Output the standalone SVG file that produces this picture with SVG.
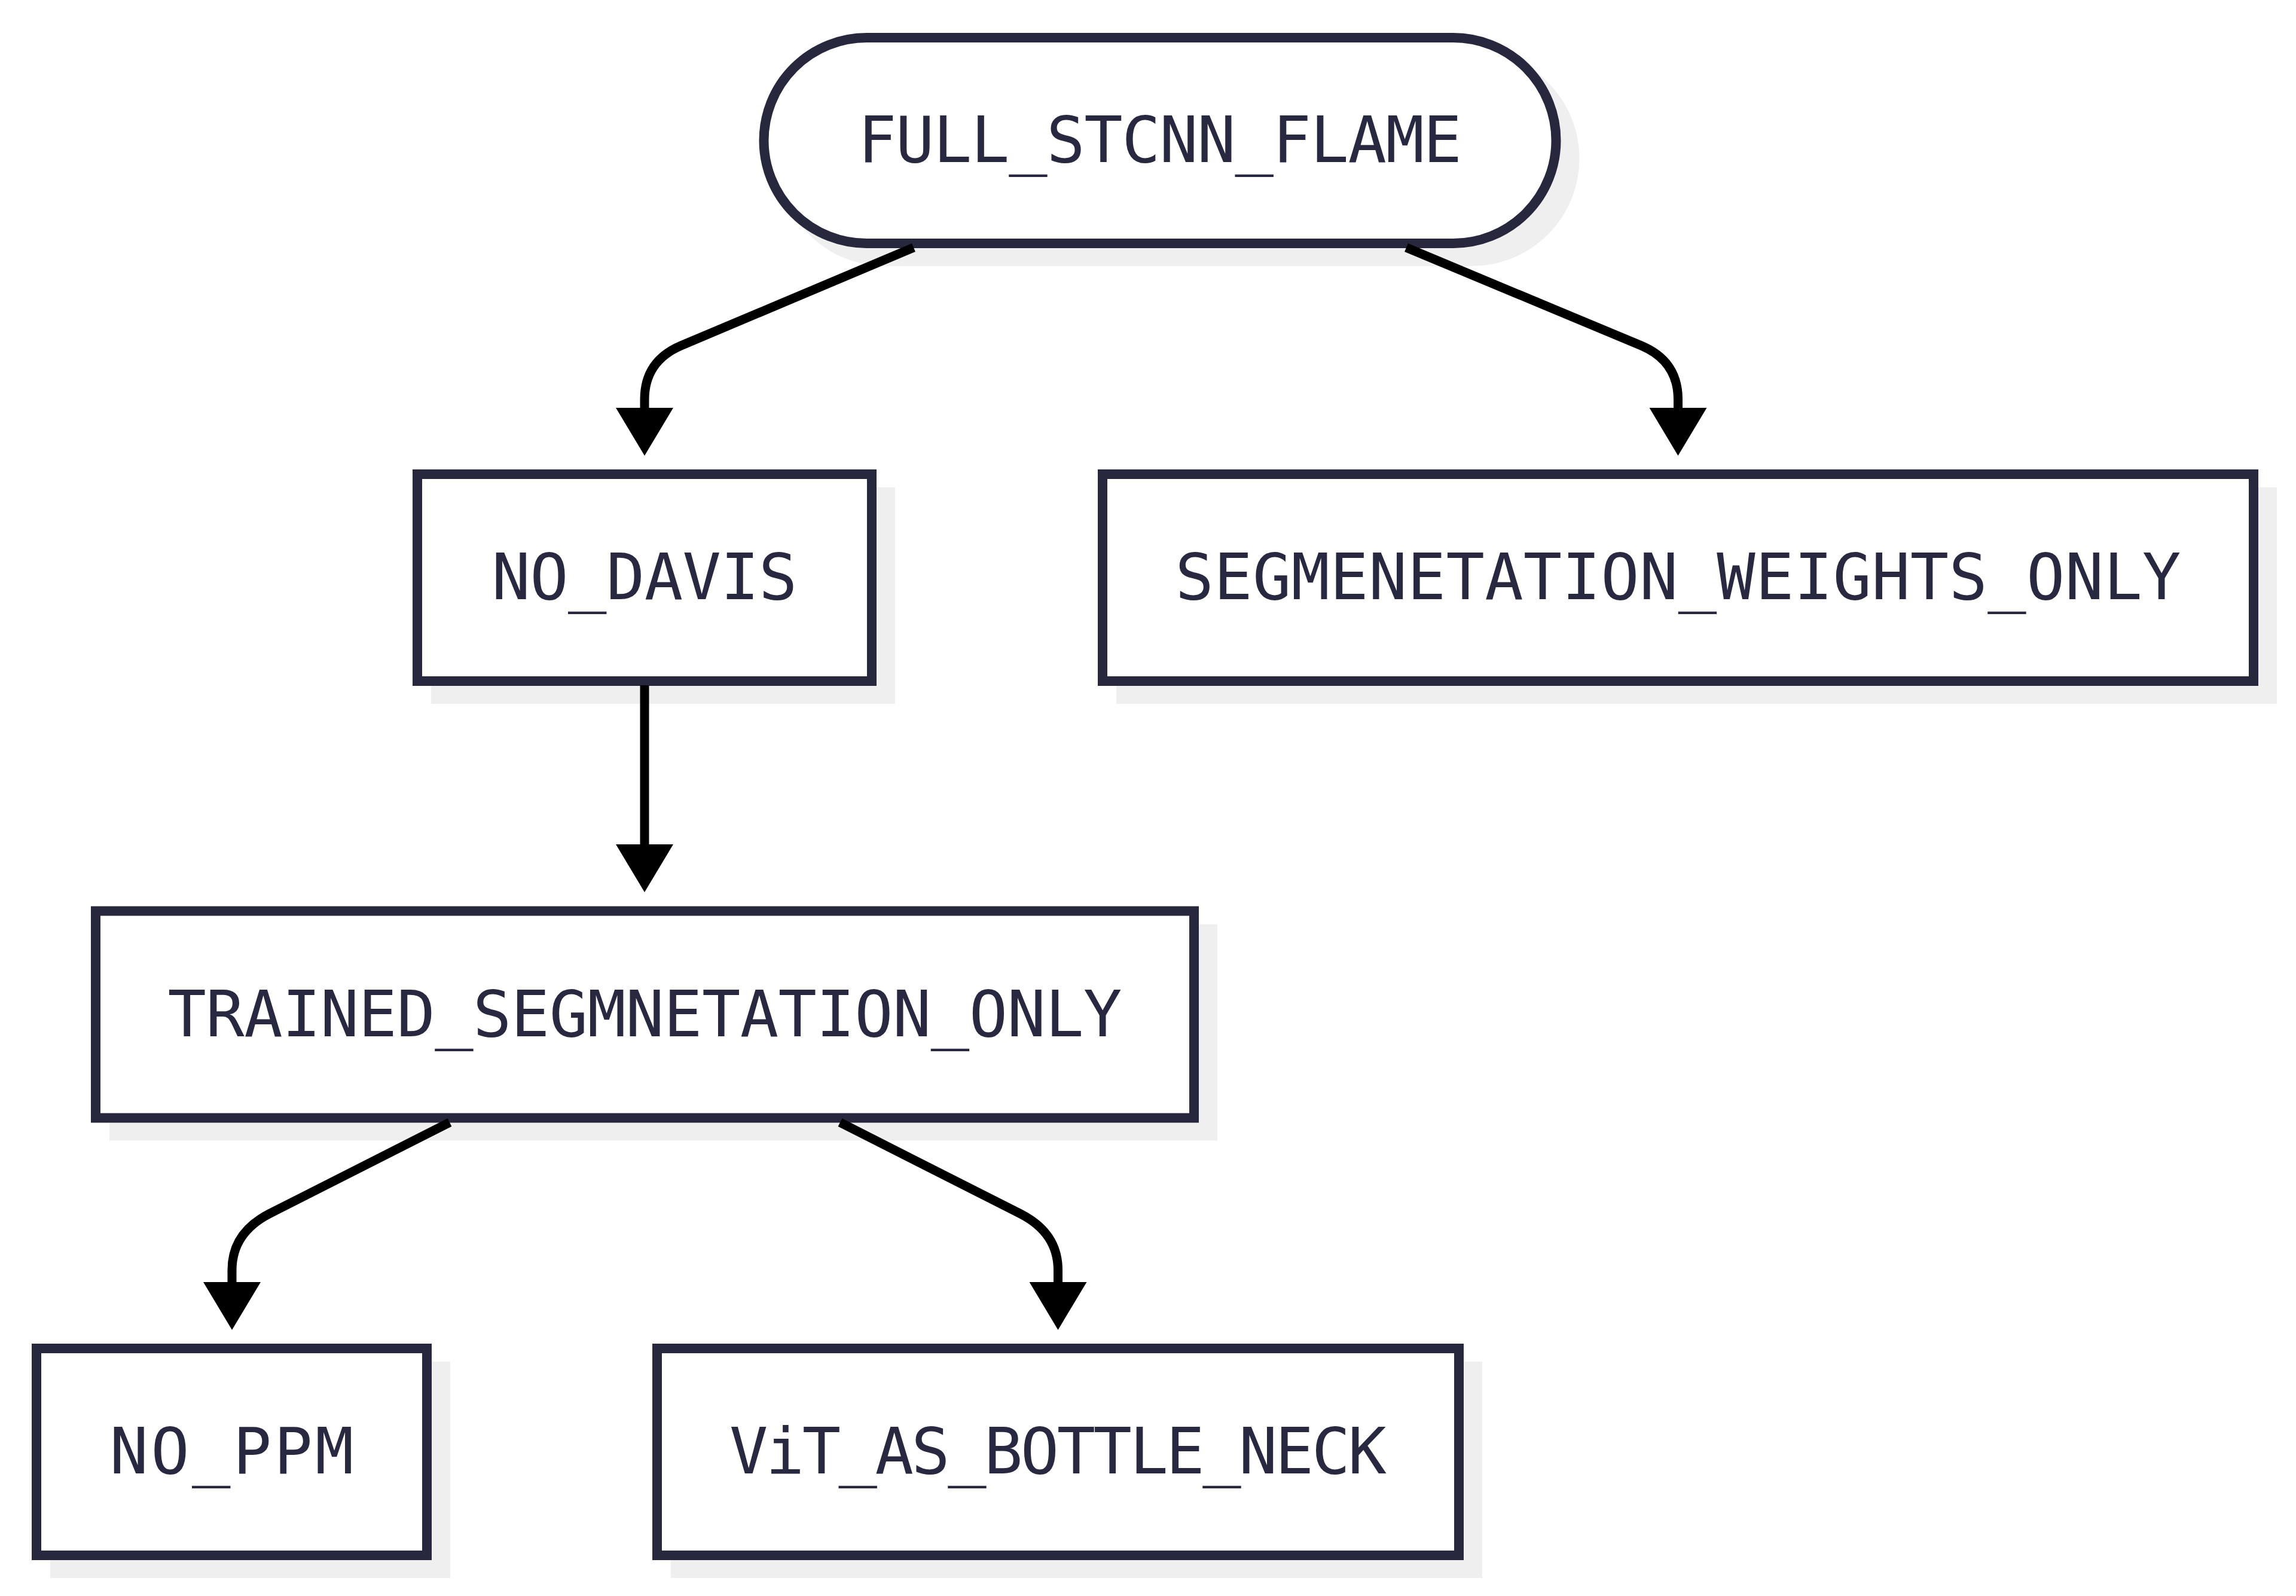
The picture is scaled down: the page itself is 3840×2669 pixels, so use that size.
<svg xmlns="http://www.w3.org/2000/svg" width="3840" height="2669" viewBox="0 0 3840 2669">
<defs>
<style>
.shadow{fill:#efefef;stroke:none}
.box{fill:#ffffff;stroke:#27273d;stroke-width:16}
.label{font-family:"DejaVu Sans Mono","Liberation Mono",monospace;font-size:107px;fill:#282840;text-anchor:middle}
.edge{fill:none;stroke:#000000;stroke-width:15}
</style>
<marker id="arrow" markerUnits="userSpaceOnUse" viewBox="0 0 80 96" refX="0" refY="48" markerWidth="80" markerHeight="96" orient="auto">
<path d="M0 0 L80 48 L0 96 Z" fill="#000000"/>
</marker>
</defs>
<rect width="3840" height="2669" fill="#ffffff"/>

<g id="FULL_STCNN_FLAME">
<rect class="shadow" x="1300.5" y="85" width="1341" height="360" rx="180" ry="180"/>
<rect class="box" x="1277.5" y="63" width="1325" height="344" rx="172" ry="172"/>
<text class="label" x="1940" y="271" textLength="1010" lengthAdjust="spacing">FULL_STCNN_FLAME</text>
</g>

<g id="NO_DAVIS">
<rect class="shadow" x="721" y="815" width="776" height="362"/>
<rect class="box" x="698" y="793" width="760" height="346"/>
<text class="label" x="1078" y="1002" textLength="511" lengthAdjust="spacing">NO_DAVIS</text>
</g>

<g id="SEGMENETATION_WEIGHTS_ONLY">
<rect class="shadow" x="1867" y="815" width="1941" height="362"/>
<rect class="box" x="1844" y="793" width="1925" height="346"/>
<text class="label" x="2806.5" y="1002" textLength="1682" lengthAdjust="spacing">SEGMENETATION_WEIGHTS_ONLY</text>
</g>

<g id="TRAINED_SEGMNETATION_ONLY">
<rect class="shadow" x="183" y="1545.5" width="1853" height="362"/>
<rect class="box" x="160" y="1523.5" width="1837" height="346"/>
<text class="label" x="1078.5" y="1733" textLength="1596" lengthAdjust="spacing">TRAINED_SEGMNETATION_ONLY</text>
</g>

<g id="NO_PPM">
<rect class="shadow" x="84" y="2277" width="669" height="362"/>
<rect class="box" x="61" y="2255" width="653" height="346"/>
<text class="label" x="387.5" y="2464" textLength="408" lengthAdjust="spacing">NO_PPM</text>
</g>

<g id="ViT_AS_BOTTLE_NECK">
<rect class="shadow" x="1122" y="2277" width="1357" height="362"/>
<rect class="box" x="1099" y="2255" width="1341" height="346"/>
<text class="label" x="1769.5" y="2464" textLength="1099" lengthAdjust="spacing">ViT_AS_BOTTLE_NECK</text>
</g>

<g id="connectors">
<path class="edge" d="M1528 414 L1139 578 Q1078 604 1078 668 L1078 682" marker-end="url(#arrow)"/>
<path class="edge" d="M2352 414 L2745 578 Q2806.5 604 2806.5 668 L2806.5 682" marker-end="url(#arrow)"/>
<path class="edge" d="M1078 1146 L1078 1412" marker-end="url(#arrow)"/>
<path class="edge" d="M752 1877 L450 2030 Q388 2062 388 2124 L388 2144" marker-end="url(#arrow)"/>
<path class="edge" d="M1405 1877 L1707 2030 Q1769.5 2062 1769.5 2124 L1769.5 2144" marker-end="url(#arrow)"/>
</g>
</svg>
